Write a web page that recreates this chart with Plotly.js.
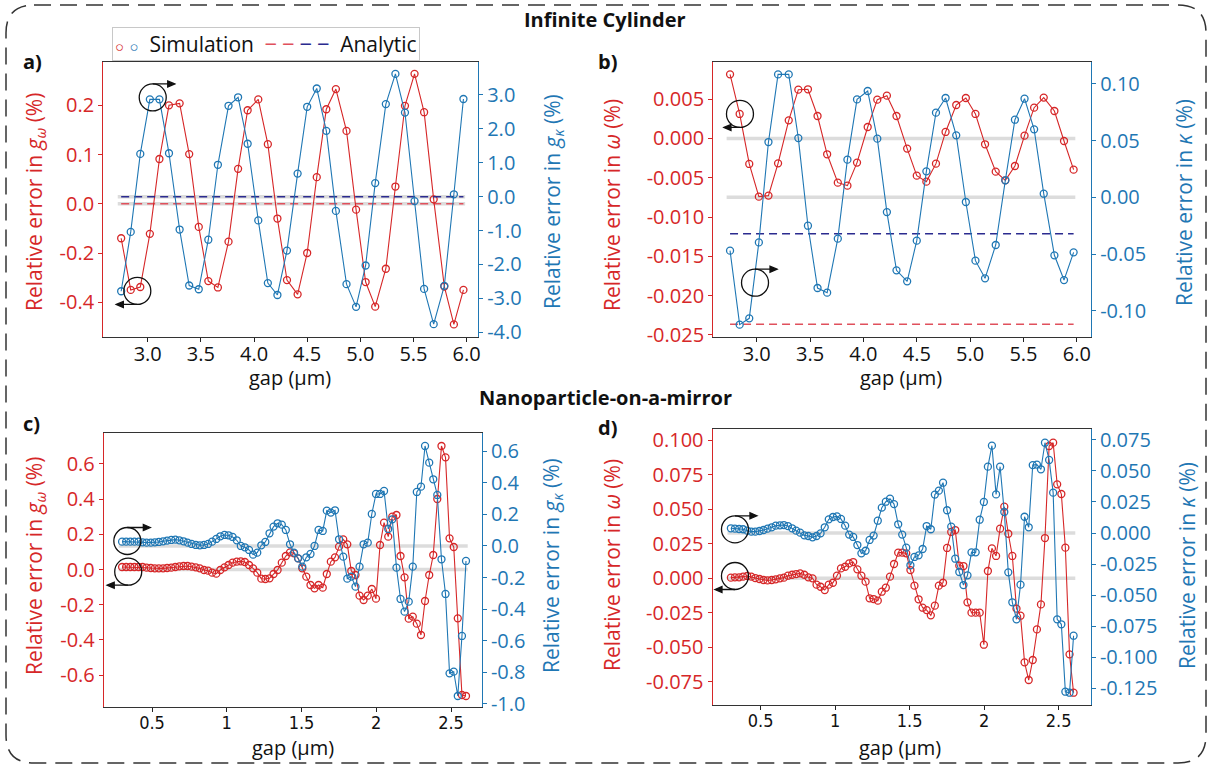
<!DOCTYPE html>
<html>
<head>
<meta charset="utf-8">
<script src="https://cdn.plot.ly/plotly-3.0.1.min.js"></script>
<style>html,body{margin:0;padding:0;background:#fff}#chart{width:1211px;height:769px}</style>
</head>
<body>
<div id="chart"></div>
<script>
// ---------------- DATA ----------------
const gapCyl = [2.75, 2.84, 2.93, 3.02, 3.11, 3.20, 3.30, 3.39, 3.48, 3.57, 3.66, 3.76, 3.85, 3.94, 4.04, 4.13, 4.22, 4.31, 4.41, 4.50, 4.59, 4.68, 4.77, 4.87, 4.96, 5.05, 5.14, 5.24, 5.33, 5.42, 5.51, 5.60, 5.69, 5.79, 5.88, 5.97];
const cylErrGOmega = [-0.070, -0.175, -0.169, -0.061, 0.091, 0.200, 0.204, 0.101, -0.047, -0.157, -0.170, -0.077, 0.071, 0.190, 0.212, 0.121, -0.030, -0.155, -0.184, -0.100, 0.054, 0.192, 0.233, 0.148, -0.012, -0.159, -0.209, -0.132, 0.035, 0.199, 0.264, 0.186, 0.009, -0.168, -0.245, -0.175];
const cylErrGKappa = [-2.79, -1.04, 1.26, 2.87, 2.87, 1.28, -0.97, -2.62, -2.73, -1.27, 0.94, 2.68, 2.93, 1.56, -0.70, -2.55, -2.90, -1.59, 0.68, 2.65, 3.19, 1.94, -0.42, -2.58, -3.25, -2.03, 0.40, 2.73, 3.62, 2.48, -0.13, -2.72, -3.76, -2.63, 0.07, 2.88];
const cylErrOmega = [0.00816, 0.00312, -0.00324, -0.00740, -0.00727, -0.00316, 0.00231, 0.00621, 0.00626, 0.00286, -0.00201, -0.00562, -0.00600, -0.00307, 0.00146, 0.00494, 0.00545, 0.00286, -0.00129, -0.00473, -0.00549, -0.00320, 0.00083, 0.00426, 0.00515, 0.00312, -0.00074, -0.00422, -0.00532, -0.00350, 0.00036, 0.00392, 0.00520, 0.00350, -0.00032, -0.00397];
const cylErrKappa = [-0.0470, -0.1122, -0.1066, -0.0397, 0.0487, 0.1083, 0.1083, 0.0522, -0.0250, -0.0799, -0.0840, -0.0364, 0.0332, 0.0863, 0.0937, 0.0517, -0.0130, -0.0643, -0.0740, -0.0382, 0.0229, 0.0746, 0.0875, 0.0546, -0.0041, -0.0558, -0.0714, -0.0420, 0.0150, 0.0684, 0.0869, 0.0599, 0.0032, -0.0511, -0.0729, -0.0485];
const cylAnalyticGOmega = 0.0;
const cylAnalyticGKappa = 0.0;
const cylAnalyticOmega = -0.02364;
const cylAnalyticKappa = -0.0321;

const gapNpm = [0.300, 0.327, 0.355, 0.382, 0.410, 0.437, 0.464, 0.492, 0.519, 0.546, 0.574, 0.601, 0.629, 0.656, 0.683, 0.711, 0.738, 0.765, 0.793, 0.820, 0.848, 0.875, 0.902, 0.930, 0.957, 0.985, 1.012, 1.039, 1.067, 1.094, 1.121, 1.149, 1.176, 1.204, 1.231, 1.258, 1.286, 1.313, 1.340, 1.368, 1.395, 1.423, 1.450, 1.477, 1.505, 1.532, 1.560, 1.587, 1.614, 1.642, 1.669, 1.696, 1.724, 1.751, 1.779, 1.806, 1.833, 1.861, 1.888, 1.915, 1.943, 1.970, 1.998, 2.025, 2.052, 2.080, 2.107, 2.135, 2.162, 2.189, 2.217, 2.244, 2.271, 2.299, 2.326, 2.354, 2.381, 2.408, 2.436, 2.463, 2.490, 2.518, 2.545, 2.573, 2.600];
const npmErrGOmega = [0.0142, 0.0142, 0.0142, 0.0142, 0.0142, 0.0142, 0.0104, 0.0085, 0.0066, 0.0066, 0.0066, 0.0085, 0.0104, 0.0142, 0.0180, 0.0199, 0.0199, 0.0161, 0.0123, 0.0066, -0.0028, -0.0066, -0.0180, -0.0237, -0.0028, 0.0123, 0.0256, 0.0388, 0.0445, 0.0464, 0.0426, 0.0256, 0.0066, -0.0180, -0.0521, -0.0540, -0.0502, -0.0256, -0.0028, 0.0388, 0.0767, 0.0975, 0.0919, 0.0635, 0.0066, -0.0407, -0.0881, -0.1070, -0.0881, -0.1032, -0.0256, 0.0445, 0.0691, 0.1297, 0.1714, 0.1430, -0.0085, -0.0313, -0.1487, -0.1733, -0.1487, -0.1108, -0.1657, 0.1392, 0.2661, 0.1866, 0.3002, 0.3097, 0.0767, -0.0445, -0.2794, -0.2680, -0.3078, -0.3722, -0.1790, -0.0313, 0.0824, 0.4006, 0.7017, 0.6373, 0.1771, 0.1278, -0.2775, -0.7131, -0.7188];
const npmErrGKappa = [0.0274, 0.0274, 0.0274, 0.0274, 0.0274, 0.0232, 0.0211, 0.0211, 0.0232, 0.0253, 0.0295, 0.0338, 0.0380, 0.0401, 0.0359, 0.0295, 0.0211, 0.0127, 0.0063, 0.0042, 0.0063, 0.0127, 0.0274, 0.0443, 0.0612, 0.0696, 0.0675, 0.0570, 0.0359, 0.0000, -0.0084, -0.0253, -0.0549, -0.0422, 0.0042, 0.0253, 0.0802, 0.1224, 0.1435, 0.1350, 0.1013, 0.0106, -0.0422, -0.0780, -0.1308, -0.0717, -0.0506, 0.0000, 0.1013, 0.0949, 0.2236, 0.2110, 0.2258, 0.0422, -0.0675, -0.2068, -0.1941, -0.2574, -0.1308, 0.0106, 0.0211, 0.2025, 0.3291, 0.3291, 0.3481, 0.1076, 0.1688, -0.1371, -0.3354, -0.4156, -0.3523, -0.1308, 0.3418, 0.3755, 0.6329, 0.5274, 0.4219, 0.3228, -0.0844, -0.3038, -0.8059, -0.7954, -0.9494, -0.5696, -0.0949];
const npmErrOmega = [0.0005, 0.0007, 0.0007, 0.0012, 0.0017, 0.0012, 0.0002, -0.0005, -0.0012, -0.0015, -0.0012, -0.0007, 0.0000, 0.0005, 0.0019, 0.0026, 0.0031, 0.0036, 0.0026, 0.0007, 0.0000, -0.0046, -0.0061, -0.0085, -0.0046, -0.0032, 0.0019, 0.0072, 0.0084, 0.0108, 0.0118, 0.0065, 0.0019, -0.0024, -0.0145, -0.0150, -0.0162, -0.0097, -0.0068, 0.0012, 0.0104, 0.0186, 0.0186, 0.0181, 0.0060, -0.0053, -0.0152, -0.0213, -0.0230, -0.0268, -0.0198, -0.0053, -0.0032, 0.0220, 0.0336, 0.0350, 0.0092, 0.0089, -0.0174, -0.0249, -0.0249, -0.0249, -0.0481, 0.0053, 0.0217, 0.0162, 0.0360, 0.0519, 0.0323, 0.0162, -0.0220, -0.0271, -0.0609, -0.0737, -0.0592, -0.0370, -0.0189, 0.0292, 0.0959, 0.0983, 0.0681, 0.0611, 0.0222, -0.0551, -0.0829];
const npmErrKappa = [0.0038, 0.0035, 0.0032, 0.0030, 0.0019, 0.0011, 0.0011, 0.0016, 0.0024, 0.0035, 0.0046, 0.0059, 0.0062, 0.0064, 0.0056, 0.0038, 0.0019, 0.0003, -0.0019, -0.0024, -0.0035, -0.0024, -0.0003, 0.0046, 0.0110, 0.0129, 0.0134, 0.0113, 0.0059, -0.0013, -0.0032, -0.0097, -0.0164, -0.0143, -0.0056, -0.0021, 0.0099, 0.0204, 0.0252, 0.0276, 0.0233, 0.0070, -0.0013, -0.0118, -0.0260, -0.0193, -0.0180, -0.0129, 0.0056, 0.0030, 0.0309, 0.0341, 0.0405, 0.0183, 0.0051, -0.0207, -0.0314, -0.0419, -0.0341, -0.0156, -0.0156, 0.0107, 0.0250, 0.0534, 0.0703, 0.0311, 0.0534, 0.0169, -0.0317, -0.0558, -0.0695, -0.0416, 0.0131, 0.0046, 0.0547, 0.0550, 0.0513, 0.0727, 0.0588, 0.0325, -0.0695, -0.0735, -0.1278, -0.1286, -0.0827];

// tick labels
const aLeftTickVals = [-0.2, -0.1, 0, 0.1, 0.2];
const aLeftTickText = ['-0.4', '-0.2', '0.0', '0.1', '0.2'];
const aRightTickVals = [-4, -3, -2, -1, 0, 1, 2, 3];
const aRightTickText = ['-4.0', '-3.0', '-2.0', '-1.0', '0.0', '1.0', '2.0', '3.0'];
const bLeftTickVals = [-0.025, -0.02, -0.015, -0.01, -0.005, 0, 0.005];
const bLeftTickText = ['-0.025', '-0.020', '-0.015', '-0.010', '-0.005', '0.000', '0.005'];
const bRightTickVals = [-0.1, -0.05, 0, 0.05, 0.1];
const bRightTickText = ['-0.10', '-0.05', '0.00', '0.05', '0.10'];
const cLeftTickVals = [-0.6, -0.4, -0.2, 0, 0.2, 0.4, 0.6];
const cLeftTickText = ['-0.6', '-0.4', '-0.2', '0.0', '0.2', '0.4', '0.6'];
const cRightTickVals = [-1.0, -0.8, -0.6, -0.4, -0.2, 0, 0.2, 0.4, 0.6];
const cRightTickText = ['-1.0', '-0.8', '-0.6', '-0.4', '-0.2', '0.0', '0.2', '0.4', '0.6'];
const dLeftTickVals = [-0.075, -0.05, -0.025, 0, 0.025, 0.05, 0.075, 0.1];
const dLeftTickText = ['-0.075', '-0.050', '-0.025', '0.000', '0.025', '0.050', '0.075', '0.100'];
const dRightTickVals = [-0.125, -0.1, -0.075, -0.05, -0.025, 0, 0.025, 0.05, 0.075];
const dRightTickText = ['-0.125', '-0.100', '-0.075', '-0.050', '-0.025', '0.000', '0.025', '0.050', '0.075'];
const xCylTickVals = [3, 3.5, 4, 4.5, 5, 5.5, 6];
const xCylTickText = ['3.0', '3.5', '4.0', '4.5', '5.0', '5.5', '6.0'];
const xNpmTickVals = [0.5, 1, 1.5, 2, 2.5];
const xNpmTickText = ['0.5', '1', '1.5', '2', '2.5'];

// ---------------- STYLE ----------------
const RED = '#d62728', BLUE = '#1f77b4';
const ARED = '#e0505c', ABLUE = '#2b2b8f';
const FONT = '"Open Sans", "Noto Sans", sans-serif';
const NARROW = '"Liberation Sans Narrow", "DejaVu Sans Condensed", "Open Sans", sans-serif';
const W = 1211, H = 769;
const px = v => v / W, py = v => 1 - v / H;

function sim(x, y, color, xa, ya) {
  return {x: x, y: y, xaxis: xa, yaxis: ya, type: 'scatter', mode: 'lines+markers',
    line: {color: color, width: 1.1},
    marker: {symbol: 'circle-open', size: 7, color: color, line: {width: 1.3, color: color}},
    showlegend: false, hoverinfo: 'skip'};
}
function analytic(x, val, color, xa, ya) {
  return {x: [x[0], x[x.length - 1]], y: [val, val], xaxis: xa, yaxis: ya, type: 'scatter', mode: 'lines',
    line: {color: color, width: 1.5, dash: '8px,5px'}, showlegend: false, hoverinfo: 'skip'};
}
function greyLine(x, xref, yref) {
  const span = x[x.length - 1] - x[0];
  return {type: 'line', xref: xref, yref: yref, x0: x[0] - 0.01 * span, x1: x[x.length - 1] + 0.005 * span, y0: 0, y1: 0,
    line: {color: '#dcdcdc', width: 3.5}, layer: 'below'};
}
function xAxis(domain, anchor, range, vals, text, tfont) {
  return {domain: domain, anchor: anchor, range: range, tickvals: vals, ticktext: text,
    tickfont: tfont, ticks: 'outside', ticklen: 4, tickcolor: '#222', showline: true, mirror: true,
    ticklabelstandoff: -5,
    linecolor: '#333', linewidth: 1, showgrid: false, zeroline: false, fixedrange: true};
}
function yAxis(domain, anchor, range, vals, text, color, side, overlay) {
  const a = {domain: domain, anchor: anchor, range: range, tickvals: vals, ticktext: text,
    tickfont: {family: FONT, size: 20, color: color}, ticks: 'outside', ticklen: 4, tickcolor: color,
    showline: true, linecolor: color, linewidth: 1.2, showgrid: false, zeroline: false, fixedrange: true,
    side: side};
  if (overlay) a.overlaying = overlay;
  return a;
}
function circle(xref, yref, cx, cy) {
  return {type: 'circle', xref: xref, yref: yref, xsizemode: 'pixel', ysizemode: 'pixel',
    xanchor: cx, yanchor: cy, x0: -13.5, x1: 13.5, y0: -13.5, y1: 13.5,
    line: {color: '#111', width: 1.3}};
}
// arrow leaving a circle: up=true -> from top of circle to the right; up=false -> from bottom to the left
function arrowShape(xref, yref, cx, cy, up, len) {
  const y = up ? 13.5 : -13.5, d = up ? 1 : -1, tip = d * len;
  const path = `M 0 ${y} L ${tip - d * 4} ${y} M ${tip} ${y} L ${tip - d * 7} ${y + 3} L ${tip - d * 7} ${y - 3} Z`;
  return {type: 'path', xref: xref, yref: yref, xsizemode: 'pixel', ysizemode: 'pixel',
    xanchor: cx, yanchor: cy, path: path, fillcolor: '#111', line: {color: '#111', width: 1.3}};
}
function txt(x, y, text, size, color, angle) {
  return {xref: 'paper', yref: 'paper', x: px(x), y: py(y), xanchor: 'center', yanchor: 'middle',
    text: text, showarrow: false, textangle: angle || 0, font: {family: FONT, size: size, color: color}};
}

const tfBig = {family: FONT, size: 20, color: '#111'};
const tfNarrow = {family: NARROW, size: 18, color: '#111'};

const data = [
  analytic(gapCyl, cylAnalyticGOmega, ARED, 'x', 'y'),
  sim(gapCyl, cylErrGOmega, RED, 'x', 'y'),
  analytic(gapCyl, cylAnalyticGKappa, ABLUE, 'x', 'y2'),
  sim(gapCyl, cylErrGKappa, BLUE, 'x', 'y2'),
  analytic(gapCyl, cylAnalyticOmega, ARED, 'x2', 'y3'),
  sim(gapCyl, cylErrOmega, RED, 'x2', 'y3'),
  analytic(gapCyl, cylAnalyticKappa, ABLUE, 'x2', 'y4'),
  sim(gapCyl, cylErrKappa, BLUE, 'x2', 'y4'),
  sim(gapNpm, npmErrGOmega, RED, 'x3', 'y5'),
  sim(gapNpm, npmErrGKappa, BLUE, 'x3', 'y6'),
  sim(gapNpm, npmErrOmega, RED, 'x4', 'y7'),
  sim(gapNpm, npmErrKappa, BLUE, 'x4', 'y8'),
];

const domTop = [py(336.7), py(61.7)];
const domA = [px(103.3), px(478)];
const domB = [px(713.3), px(1091)];
const domC = [px(104), px(481.7)];
const domD = [px(712.7), px(1090.7)];
const domCy = [py(707.3), py(433.3)];
const domDy = [py(705), py(429.3)];

const titleGw = 'Relative error in <i>g<sub>ω</sub></i> (%)';
const titleGk = 'Relative error in <i>g<sub>κ</sub></i> (%)';
const titleW = 'Relative error in <i>ω</i> (%)';
const titleK = 'Relative error in <i>κ</i> (%)';
const gapTitle = 'gap (μm)';

const r = 28, L = 6, R = 1206, T = 5, B = 763;
const framePath = `M ${px(L + r)} ${py(T)} L ${px(R - r)} ${py(T)} Q ${px(R)} ${py(T)} ${px(R)} ${py(T + r)} L ${px(R)} ${py(B - r)} Q ${px(R)} ${py(B)} ${px(R - r)} ${py(B)} L ${px(L + r)} ${py(B)} Q ${px(L)} ${py(B)} ${px(L)} ${py(B - r)} L ${px(L)} ${py(T + r)} Q ${px(L)} ${py(T)} ${px(L + r)} ${py(T)} Z`;

const TS = 21;
const layout = {
  width: W, height: H, margin: {l: 0, r: 0, t: 0, b: 0}, paper_bgcolor: '#fff', plot_bgcolor: 'rgba(0,0,0,0)',
  showlegend: false, font: {family: FONT},
  xaxis: xAxis(domA, 'y', [2.582, 6.107], xCylTickVals, xCylTickText, tfBig),
  yaxis: yAxis(domTop, 'x', [-0.270, 0.2886], aLeftTickVals, aLeftTickText, RED, 'left'),
  yaxis2: yAxis(domTop, 'x', [-4.13, 3.98], aRightTickVals, aRightTickText, BLUE, 'right', 'y'),
  xaxis2: xAxis(domB, 'y3', [2.593, 6.133], xCylTickVals, xCylTickText, tfBig),
  yaxis3: yAxis(domTop, 'x2', [-0.02522, 0.00977], bLeftTickVals, bLeftTickText, RED, 'left'),
  yaxis4: yAxis(domTop, 'x2', [-0.1228, 0.1195], bRightTickVals, bRightTickText, BLUE, 'right', 'y3'),
  xaxis3: xAxis(domC, 'y5', [0.179, 2.705], xNpmTickVals, xNpmTickText, tfNarrow),
  yaxis5: yAxis(domCy, 'x3', [-0.783, 0.774], cLeftTickVals, cLeftTickText, RED, 'left'),
  yaxis6: yAxis(domCy, 'x3', [-1.021, 0.713], cRightTickVals, cRightTickText, BLUE, 'right', 'y5'),
  xaxis4: xAxis(domD, 'y7', [0.178, 2.715], xNpmTickVals, xNpmTickText, tfNarrow),
  yaxis7: yAxis(domDy, 'x4', [-0.0918, 0.108], dLeftTickVals, dLeftTickText, RED, 'left'),
  yaxis8: yAxis(domDy, 'x4', [-0.1385, 0.0835], dRightTickVals, dRightTickText, BLUE, 'right', 'y7'),
  shapes: [
    {type: 'path', xref: 'paper', yref: 'paper', path: framePath, line: {color: '#333', width: 1.5, dash: '17px,9px'}},
    greyLine(gapCyl, 'x', 'y'), greyLine(gapCyl, 'x', 'y2'),
    greyLine(gapCyl, 'x2', 'y3'), greyLine(gapCyl, 'x2', 'y4'),
    greyLine(gapNpm, 'x3', 'y5'), greyLine(gapNpm, 'x3', 'y6'),
    greyLine(gapNpm, 'x4', 'y7'), greyLine(gapNpm, 'x4', 'y8'),
    circle('x', 'y', 3.047, 0.216), arrowShape('x', 'y', 3.047, 0.216, true, 22),
    circle('x', 'y', 2.902, -0.177), arrowShape('x', 'y', 2.902, -0.177, false, 21),
    circle('x2', 'y3', 2.843, 0.00312), arrowShape('x2', 'y3', 2.843, 0.00312, false, 16),
    circle('x2', 'y3', 2.984, -0.01835), arrowShape('x2', 'y3', 2.984, -0.01835, true, 22),
    circle('x3', 'y5', 0.335, 0.162), arrowShape('x3', 'y5', 0.335, 0.162, true, 23),
    circle('x3', 'y5', 0.341, -0.0125), arrowShape('x3', 'y5', 0.341, -0.0125, false, 21),
    circle('x4', 'y7', 0.3275, 0.0355), arrowShape('x4', 'y7', 0.3275, 0.0355, true, 22),
    circle('x4', 'y7', 0.3275, 0.0017), arrowShape('x4', 'y7', 0.3275, 0.0017, false, 20),
  ],
  annotations: [
    txt(605, 19, '<b>Infinite Cylinder</b>', 20, '#111'),
    txt(605, 397, '<b>Nanoparticle-on-a-mirror</b>', 20, '#111'),
    txt(32, 62, '<b>a)</b>', 20, '#111'),
    txt(607, 62, '<b>b)</b>', 20, '#111'),
    txt(31, 424, '<b>c)</b>', 20, '#111'),
    txt(607, 427, '<b>d)</b>', 20, '#111'),
    txt(35, 202, titleGw, TS, RED, -90),
    txt(553, 202, titleGk, TS, BLUE, -90),
    txt(612, 205, titleW, TS, RED, -90),
    txt(1184, 203, titleK, TS, BLUE, -90),
    txt(35, 566, titleGw, TS, RED, -90),
    txt(552, 566, titleGk, TS, BLUE, -90),
    txt(612, 565, titleW, TS, RED, -90),
    txt(1187, 566, titleK, TS, BLUE, -90),
    txt(290, 377, gapTitle, 20, '#111'),
    txt(901, 377, gapTitle, 20, '#111'),
    txt(293, 747, gapTitle, 20, '#111'),
    txt(900, 747, gapTitle, 20, '#111'),
    Object.assign(txt(266, 44,
      `<span style="color:${RED};font-size:15px">○</span> <span style="color:${BLUE};font-size:15px">○</span>  Simulation  <span style="color:${ARED}">‒ ‒</span><span style="color:${ABLUE}"> ‒ ‒</span>  Analytic`,
      21, '#111'), {bgcolor: '#fff', bordercolor: '#c8c8c8', borderwidth: 1, borderpad: 2}),
  ],
};

Plotly.newPlot('chart', data, layout, {staticPlot: true, displayModeBar: false});
</script>
</body>
</html>
